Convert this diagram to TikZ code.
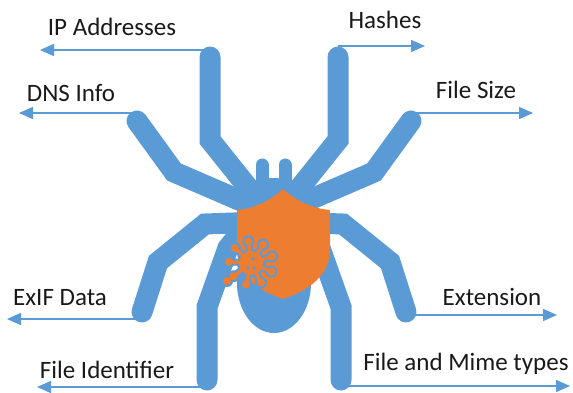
\documentclass[tikz,border=0pt]{standalone}
\usepackage{fontspec}
\setmainfont{Carlito}
\usetikzlibrary{arrows.meta}
\definecolor{spblue}{HTML}{5B9BD5}
\definecolor{sporange}{HTML}{ED7D31}

\begin{document}
\begin{tikzpicture}[x=1pt,y=-1pt,
  leg/.style={draw=spblue,line width=21pt,line cap=round,line join=miter},
  conn/.style={draw=spblue,line width=1.5pt,-{Triangle[length=14pt,width=12pt]}},
  lbl/.style={font=\fontsize{25}{30}\selectfont,text=black!90,anchor=base,inner sep=0pt}]
\useasboundingbox (0,0) rectangle (573,393);

% feet of the legs
\coordinate (ipFoot) at (210,57);
\coordinate (dnsFoot) at (137,121);
\coordinate (exifFoot) at (142,312);
\coordinate (fidFoot) at (207,380);
\coordinate (hashFoot) at (338,57);
\coordinate (sizeFoot) at (411,121);
\coordinate (extFoot) at (406,312);
\coordinate (mimeFoot) at (341,380);

% arrow tips
\coordinate (ipTip) at (40,50);
\coordinate (dnsTip) at (19,113);
\coordinate (exifTip) at (7,319);
\coordinate (fidTip) at (37,387);
\coordinate (hashTip) at (425,46);
\coordinate (sizeTip) at (533,113);
\coordinate (extTip) at (557,315);
\coordinate (mimeTip) at (570,386);

% labels
\node[lbl] (ip) at (112,36) {IP Addresses};
\node[lbl] (dns) at (71,102) {DNS Info};
\node[lbl] (exif) at (60,305) {ExIF Data};
\node[lbl] (fid) at (107,378) {File Identifier};
\node[lbl] (hash) at (385,29) {Hashes};
\node[lbl] (size) at (476,99) {File Size};
\node[lbl] (ext) at (492,305) {Extension};
\node[lbl] (mime) at (466,370) {File and Mime types};

% arrows out of the feet
\draw[conn] (ipFoot |- ipTip) -- (ipTip);
\draw[conn] (dnsFoot |- dnsTip) -- (dnsTip);
\draw[conn] (exifFoot |- exifTip) -- (exifTip);
\draw[conn] (fidFoot |- fidTip) -- (fidTip);
\draw[conn] (hashFoot |- hashTip) -- (hashTip);
\draw[conn] (sizeFoot |- sizeTip) -- (sizeTip);
\draw[conn] (extFoot |- extTip) -- (extTip);
\draw[conn] (mimeFoot |- mimeTip) -- (mimeTip);

% legs, left side
\draw[leg] (ipFoot) -- (210,140) -- (262,205);
\draw[leg] (dnsFoot) -- (174,172) -- (262,210);
\draw[leg] (exifFoot) -- (158,262) -- (205,224) -- (262,222);
\draw[leg] (fidFoot) -- (207,307) -- (228,248) -- (255,215);
% legs, right side
\draw[leg] (hashFoot) -- (338,140) -- (286,205);
\draw[leg] (sizeFoot) -- (374,172) -- (286,210);
\draw[leg] (extFoot) -- (390,262) -- (343,224) -- (286,222);
\draw[leg] (mimeFoot) -- (341,307) -- (320,248) -- (293,215);

% head, palps and abdomen
\draw[leg,line width=13pt] (262,165) -- (262,192);
\draw[leg,line width=13pt] (285,165) -- (285,192);
\fill[spblue] (274,208) ellipse [x radius=36,y radius=30];
\fill[spblue] (274,283) ellipse [x radius=37,y radius=50];

% shield
\fill[sporange] (283,189) .. controls (268,203) and (250,209) .. (237,210)
  -- (237,250) .. controls (237,278) and (262,292) .. (283,299)
  .. controls (304,292) and (330,278) .. (330,250) -- (330,210)
  .. controls (316,209) and (298,203) .. (283,189) -- cycle;

% virus, blue rim first then orange
\coordinate (vir) at (251,263);
\foreach \col/\w/\r/\b in {spblue/7/14/6, sporange/3.2/12/4}{
  \fill[\col] (vir) circle (\r);
  \foreach \a in {183,223,...,503}{
    \draw[\col,line width=\w pt] (vir) -- ++(\a:21);
    \fill[\col] (vir) ++(\a:22) circle (\b);
  }
  \draw[\col,line width=\w pt] (vir) -- ++(143:29);
  \fill[\col] (vir) ++(143:30) circle (\b);
}
\fill[spblue] (vir) ++(2,-4) circle (1.9);
\fill[spblue] (vir) ++(-3,5) circle (1.9);
\fill[spblue] (vir) ++(3,5) circle (1.9);

\end{tikzpicture}
\end{document}
